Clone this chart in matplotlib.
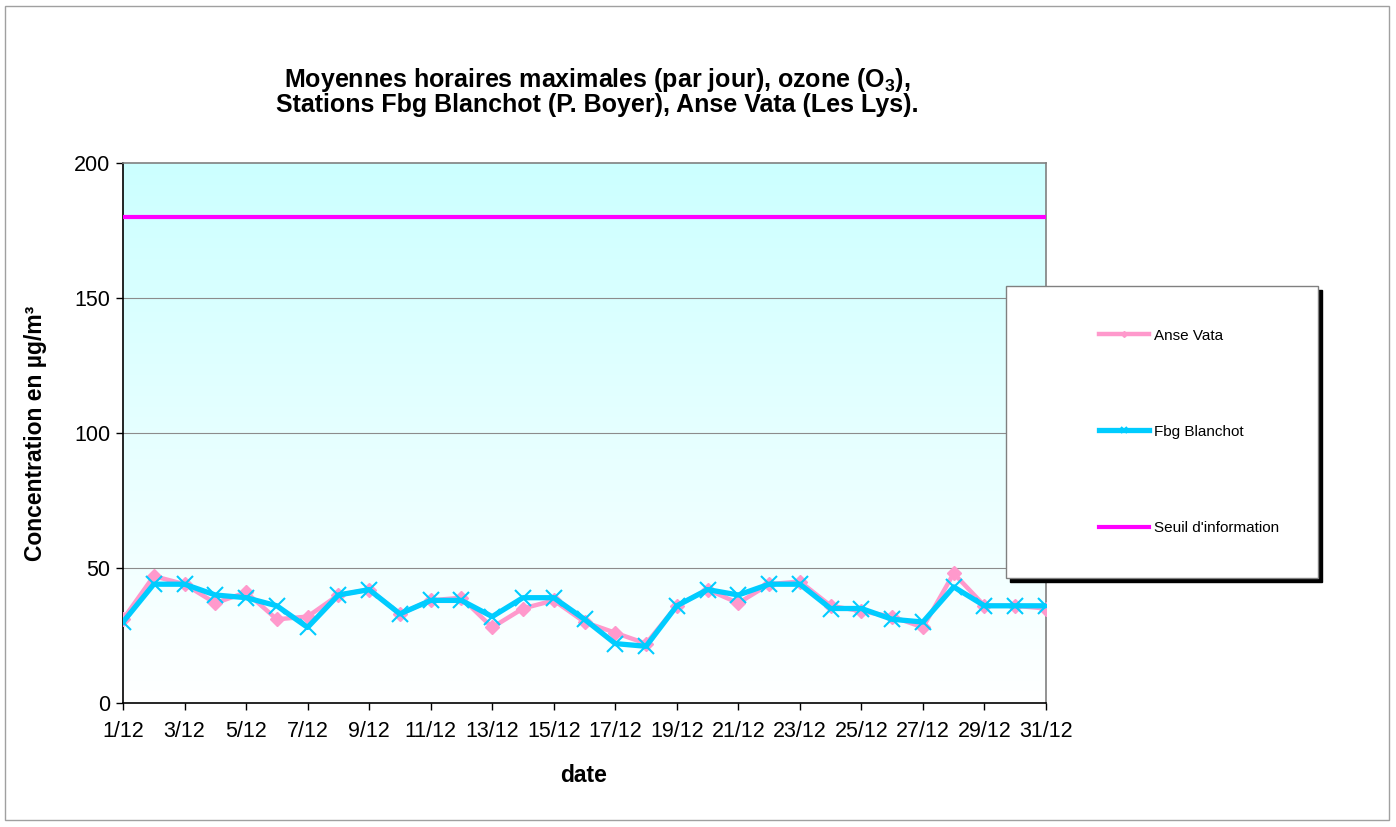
import numpy as np
import matplotlib
matplotlib.use("Agg")
import matplotlib.pyplot as plt
from matplotlib.patches import Rectangle
from matplotlib.colors import LinearSegmentedColormap

plt.rcParams['font.family'] = ['Liberation Sans', 'DejaVu Sans']
plt.rcParams['mathtext.fontset'] = 'custom'
plt.rcParams['mathtext.rm'] = 'Liberation Sans'
plt.rcParams['mathtext.bf'] = 'Liberation Sans:bold'

days = list(range(1, 32))
day_labels = [f"{d}/12" for d in days]
anse_vata = [31, 47, 44, 37, 41, 31, 32, 40, 42, 33, 38, 39, 28, 35, 38, 30, 26, 22, 36, 42,
             37, 44, 45, 36, 34, 32, 28, 48, 36, 36, 35]
fbg_blanchot = [30, 44, 44, 40, 39, 36, 28, 40, 42, 33, 38, 38, 32, 39, 39, 31, 22, 21, 36, 42,
                40, 44, 44, 35, 35, 31, 30, 43, 36, 36, 36]
seuil = [180] * 31
yticks = [0, 50, 100, 150, 200]

W, H = 1396, 827
fig = plt.figure(figsize=(W / 100, H / 100), dpi=100)

# outer border
fig.patches.append(Rectangle((5 / W, 1 - 820 / H), 1384 / W, 814 / H, transform=fig.transFigure,
                             fill=False, edgecolor='#a0a0a0', linewidth=1))

ax = fig.add_axes([123 / W, 1 - 703 / H, 923 / W, 540 / H])
x = np.arange(len(days))

# gradient background
cmap = LinearSegmentedColormap.from_list('bg', ['#ffffff', '#ccffff'])
grad = np.linspace(0, 1, 256).reshape(-1, 1)
ax.imshow(grad, cmap=cmap, origin='lower', aspect='auto',
          extent=[0, len(days) - 1, 0, 200], zorder=0)

for v in [50, 100, 150]:
    ax.axhline(v, color='#8c8c8c', linewidth=0.8, zorder=1)

ax.plot(x, anse_vata, color='#ff99cc', linewidth=3.2, marker='D', markersize=7.5,
        markeredgecolor='#ff99cc', label='Anse Vata', zorder=3)
ax.plot(x, fbg_blanchot, color='#00ccff', linewidth=3.8, marker='x', markersize=11,
        markeredgewidth=1.5, label='Fbg Blanchot', zorder=4)
ax.plot(x, seuil, color='#ff00ff', linewidth=3, label="Seuil d'information", zorder=4)

ax.set_xlim(0, len(days) - 1)
ax.set_ylim(0, 200)
ax.set_xticks(x[::2])
ax.set_xticklabels(day_labels[::2], fontsize=15.5)
ax.set_yticks(yticks)
ax.set_yticklabels([str(t) for t in yticks], fontsize=15.5)
ax.tick_params(axis='both', direction='out', length=5, width=1)
ax.tick_params(axis='x', pad=8)
ax.tick_params(axis='y', pad=4)
for s in ['left', 'bottom']:
    ax.spines[s].set_color('black')
    ax.spines[s].set_linewidth(1.2)
for s in ['top', 'right']:
    ax.spines[s].set_color('#808080')
    ax.spines[s].set_linewidth(1.2)

fig.text(597 / W, 1 - 80 / H, "Moyennes horaires maximales (par jour), ozone (O$_{\\mathbf{3}}$),",
         ha='center', va='center', fontsize=18, fontweight='bold')
fig.text(597 / W, 1 - 105 / H, "Stations Fbg Blanchot (P. Boyer), Anse Vata (Les Lys).",
         ha='center', va='center', fontsize=18, fontweight='bold')
fig.text(584 / W, 1 - 775 / H, "date", ha='center', va='center', fontsize=16.5, fontweight='bold')
fig.text(36 / W, 1 - 433 / H, "Concentration en µg/m³", ha='center', va='center',
         rotation=90, fontsize=16.5, fontweight='bold')

# legend box with shadow
lx0, ly0, lx1, ly1 = 1006, 286, 1318, 578
fig.patches.append(Rectangle(((lx0 + 4) / W, 1 - (ly1 + 4) / H), (lx1 - lx0) / W, (ly1 - ly0) / H,
                             transform=fig.transFigure, facecolor='black', edgecolor='black', zorder=5))
fig.patches.append(Rectangle((lx0 / W, 1 - ly1 / H), (lx1 - lx0) / W, (ly1 - ly0) / H,
                             transform=fig.transFigure, facecolor='white', edgecolor='#808080',
                             linewidth=1, zorder=6))
handles, labels = ax.get_legend_handles_labels()
leg = fig.legend(handles, labels, loc='upper left', bbox_to_anchor=(1091 / W, 1 - 321 / H),
                 frameon=False, fontsize=11, handlelength=3.27, handletextpad=0.33,
                 labelspacing=5.38, borderpad=0, markerscale=0.4)
leg.set_zorder(7)

fig.savefig('out.png', dpi=100)
